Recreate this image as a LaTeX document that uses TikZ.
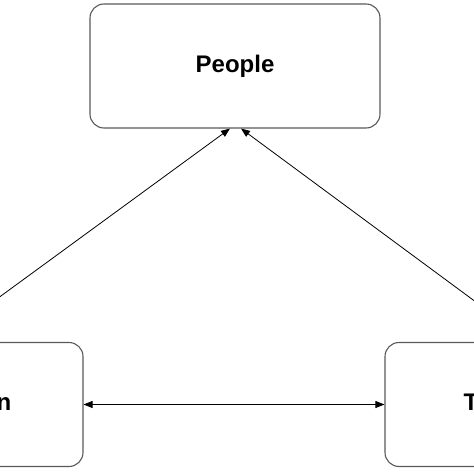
\documentclass[tikz,border=0pt]{standalone}
\usepackage{fontspec}
\setmainfont{Liberation Sans}
\usetikzlibrary{arrows.meta,positioning}

\begin{document}
\begin{tikzpicture}[x=1pt, y=1pt,
  box/.style={draw=black!65, line width=1.1pt, rounded corners=14pt, align=center,
    font=\fontsize{24}{28}\selectfont\bfseries, minimum width=290pt, minimum height=124pt},
  flow/.style={-{Triangle[length=9pt, width=7pt]}, line width=0.8pt},
  both/.style={{Triangle[length=9pt, width=7pt]}-{Triangle[length=9pt, width=7pt]}, line width=0.8pt}]
\clip (0,0) rectangle (474,-474);
\node[box] (pp) at (235,-66) {People};
\node[box] (org) at (-62,-404.5) {Organization};
\node[box] (tech) at (530,-404.5) {Technology};
\draw[flow] (org.north) -- ([xshift=-5pt]pp.south);
\draw[flow] (tech.north) -- ([xshift=6pt]pp.south);
\draw[both] (org.east) -- (tech.west);
\end{tikzpicture}
\end{document}
